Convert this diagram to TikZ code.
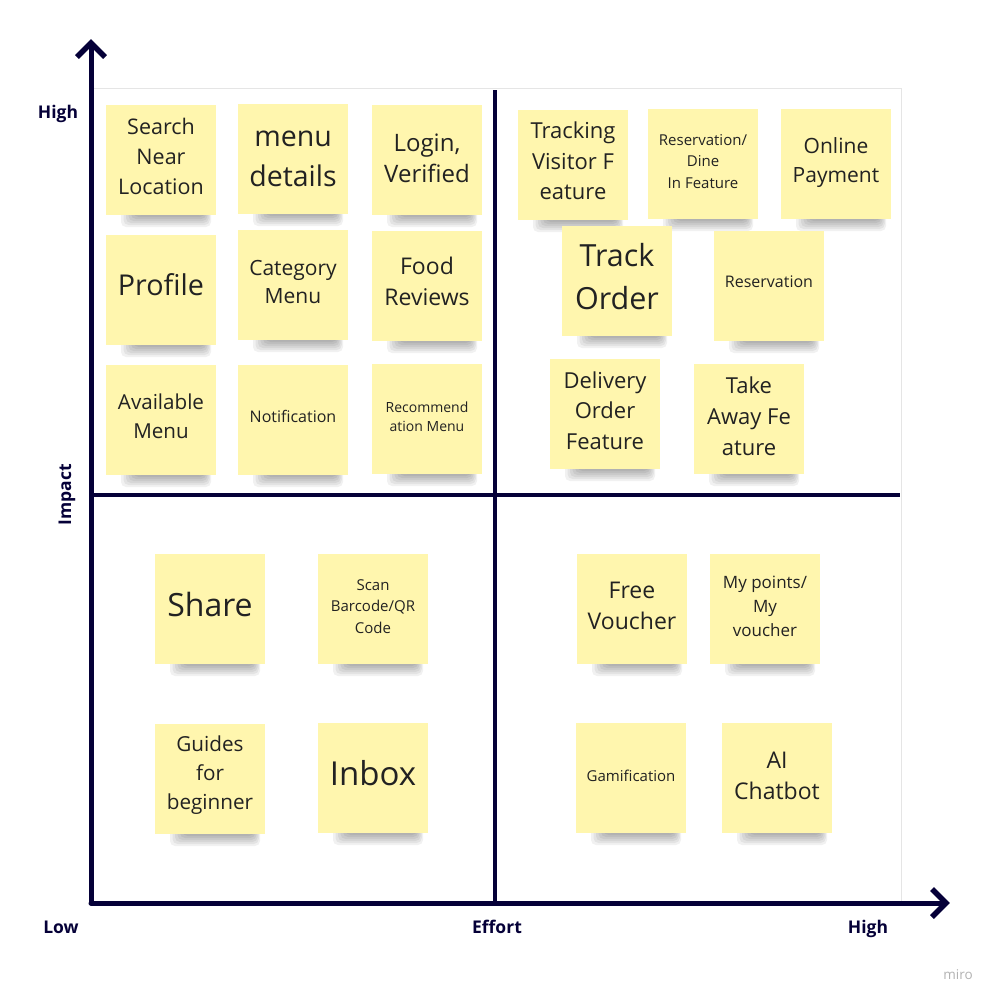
\documentclass[tikz,border=0pt]{standalone}
\usepackage{fontspec}
\setmainfont{Open Sans}
\usetikzlibrary{calc}
\definecolor{navy}{HTML}{050038}
\definecolor{stickyY}{HTML}{FFF6AE}
\definecolor{inktext}{HTML}{222222}
\tikzset{
  axisline/.style={draw=navy, line width=5pt},
  midline/.style={draw=navy, line width=4pt},
  chevron/.style={draw=navy, line width=5.5pt, line join=miter, line cap=butt},
  note/.style={fill=stickyY, minimum width=110pt, minimum height=110pt, inner sep=0pt, draw=none},
  notetext/.style={align=center, text=inktext, inner sep=0pt},
  axislabel/.style={text=navy, font=\fontsize{17.5}{20}\selectfont\bfseries, inner sep=0pt, anchor=base},
  notesh/.style={fill=black, fill opacity=0.055, rounded corners=5pt},
}
% name, cx, cy, text y, size, leading, text
\newcommand\sticky[7]{%
  \foreach \k in {0,...,6}{%
    \fill[notesh] (#2-40+\k*2.5,#3+50) rectangle (#2+50-\k*1.2,#3+67-\k*2);
  }
  \node[note] (#1) at (#2,#3) {};
  \node[notetext, font=\fontsize{#5}{#6}\selectfont] (#1t) at (#2,#4) {#7};
}
\begin{document}
\begin{tikzpicture}[x=1pt,y=-1pt]
\useasboundingbox (0,0) rectangle (997,1002);
\fill[white] (0,0) rectangle (997,1002);
% faint frame
\draw[black!10, line width=0.8pt] (91,88) rectangle (901,903);

% top-left quadrant
\sticky{sn}{161}{160}{156.5}{21.5}{30}{Search\\Near\\Location}
\sticky{md}{293}{159}{158.5}{28.5}{40}{menu\\details}
\sticky{lv}{427}{160}{158}{24}{31}{Login,\\Verified}
\sticky{pr}{161}{290}{285}{28.7}{40}{Profile}
\sticky{cm}{293}{285}{282}{21}{28}{Category\\Menu}
\sticky{fr}{427}{286}{281.5}{23}{31}{Food\\Reviews}
\sticky{am}{161}{420}{416}{20.6}{29}{Available\\Menu}
\sticky{no}{293}{420}{416}{16}{22}{Notification}
\sticky{rm}{427}{419}{416.5}{14}{19}{Recommend\\ation Menu}
% top-right quadrant
\sticky{tv}{573}{165}{161}{22}{30.5}{Tracking\\Visitor F\\eature}
\sticky{rd}{703}{164}{161.5}{15}{21.5}{Reservation/\\Dine\\In Feature}
\sticky{op}{836}{164}{162.5}{21}{29}{Online\\Payment}
\sticky{to}{617}{281}{277}{30.5}{43}{Track\\Order}
\sticky{rs}{769}{286}{282}{16}{22}{Reservation}
\sticky{do}{605}{414}{410.5}{22}{30.5}{Delivery\\Order\\Feature}
\sticky{ta}{749}{419}{416}{22}{31}{Take\\Away Fe\\ature}
% bottom-left quadrant
\sticky{sh}{210}{609}{604}{32}{44}{Share}
\sticky{sb}{373}{609}{606.5}{15}{21.5}{Scan\\Barcode/QR\\Code}
\sticky{gb}{210}{779}{775.5}{20.7}{29}{Guides\\for\\beginner}
\sticky{ib}{373}{778}{773}{33}{45}{Inbox}
% bottom-right quadrant
\sticky{fv}{632}{609}{605.5}{23}{31}{Free\\Voucher}
\sticky{mp}{765}{609}{606}{17}{24}{My points/\\My\\voucher}
\sticky{gm}{631}{778}{775.5}{15}{21}{Gamification}
\sticky{ac}{777}{778}{775.5}{23}{31}{AI\\Chatbot}

% axes
\coordinate (O) at (91,903);
\coordinate (ytip) at (91,43);
\coordinate (xtip) at (946,903);
\coordinate (vtop) at (495,90);
\coordinate (vbot) at (495,903);
\coordinate (hleft) at (91,495);
\coordinate (hright) at (900,495);
\draw[midline] (vtop) -- (vbot);
\draw[midline] (hleft) -- (hright);
\draw[axisline, line cap=round] (O) -- ($(ytip)+(0,3)$);
\draw[axisline, line cap=round] (O) -- ($(xtip)+(-3,0)$);
\draw[chevron] ($(ytip)+(-14,14)$) -- (ytip) -- ($(ytip)+(14,14)$);
\draw[chevron] ($(xtip)+(-14,-14)$) -- (xtip) -- ($(xtip)+(-14,14)$);

% labels
\node[axislabel] (hiY) at (58,118) {High};
\node[axislabel, rotate=90, anchor=center] (imp) at (67,495) {Impact};
\node[axislabel] (low) at (61,933.5) {Low};
\node[axislabel] (eff) at (497,933.5) {Effort};
\node[axislabel] (hiX) at (868,933.5) {High};
\node[text=black!30, font=\fontsize{13.5}{16}\selectfont, inner sep=0pt] (miro) at (958,975) {miro};
\end{tikzpicture}
\end{document}
